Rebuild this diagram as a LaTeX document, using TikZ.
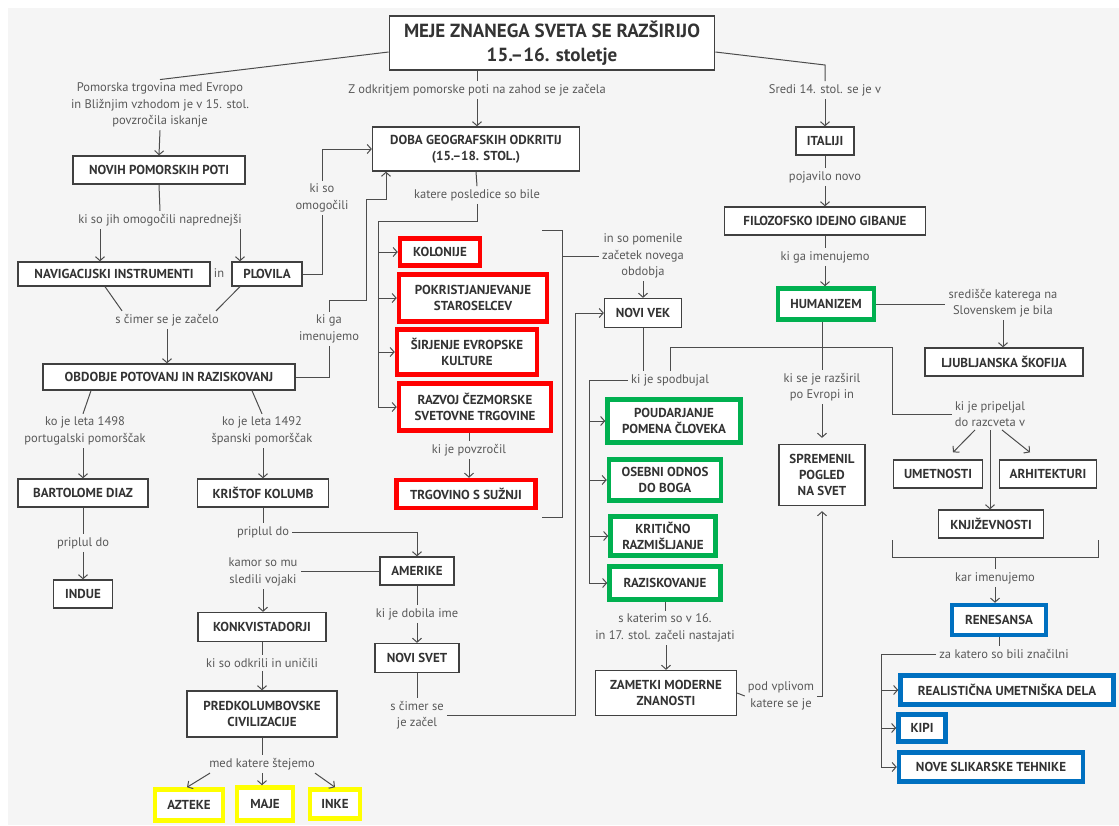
\documentclass[tikz,border=0pt]{standalone}
\usepackage{fontspec}
\setmainfont{PT Sans}
\usetikzlibrary{arrows.meta}
\definecolor{RedBox}{HTML}{FF0000}
\definecolor{GreenBox}{HTML}{00B050}
\definecolor{BlueBox}{HTML}{0070C0}
\definecolor{YellowBox}{HTML}{FFFF00}
\begin{document}
\begin{tikzpicture}[x=1pt,y=-1pt]
\tikzset{BoxStyle/.style={draw=black!75,line width=1.3pt,fill=white,text=black!80,font=\bfseries\fontsize{13}{16}\selectfont,align=center,inner sep=3pt,minimum height=28pt},
TwoStyle/.style={BoxStyle,minimum height=46pt},
RedStyle/.style={draw=RedBox,line width=4.5pt},
GreenStyle/.style={draw=GreenBox,line width=4.5pt},
BlueStyle/.style={draw=BlueBox,line width=4.5pt},
YellowStyle/.style={draw=YellowBox,line width=4.5pt},
LabelStyle/.style={text=black!65,font=\fontsize{12.5}{16.5}\selectfont,align=center,inner sep=3pt},
EdgeStyle/.style={draw=black!70,line width=1pt},
ArrowStyle/.style={EdgeStyle,-{Straight Barb[length=4pt,width=9pt]}}}
\fill[white] (0,0) rectangle (1119,825);
\fill[black!4] (8,8) rectangle (1119,825);
\useasboundingbox (0,0) rectangle (1119,825);
\node[BoxStyle,font=\bfseries\fontsize{19}{24}\selectfont,line width=1.8pt,minimum width=325pt,minimum height=54pt] (meje) at (552,43) {MEJE ZNANEGA SVETA SE RAZŠIRIJO\\15.--16. stoletje};
\node[LabelStyle] (lpomorska) at (160,105) {Pomorska trgovina med Evropo\\in Bližnjim vzhodom je v 15. stol.\\povzročila iskanje};
\node[LabelStyle] (lzod) at (477,90) {Z odkritjem pomorske poti na zahod se je začela};
\node[LabelStyle] (lsredi) at (825,90) {Sredi 14. stol. se je v};
\node[BoxStyle,minimum width=172pt] (novih) at (159,170) {NOVIH POMORSKIH POTI};
\node[LabelStyle] (lkisojih) at (160,220) {ki so jih omogočili naprednejši};
\node[BoxStyle,minimum width=192pt,minimum height=24pt] (nav) at (114,274) {NAVIGACIJSKI INSTRUMENTI};
\node[LabelStyle] (lin) at (219,273) {in};
\node[BoxStyle,minimum width=70pt,minimum height=24pt] (plovila) at (267,274) {PLOVILA};
\node[LabelStyle] (lscimer) at (167,320) {s čimer se je začelo};
\node[BoxStyle,minimum width=252pt,minimum height=26pt] (obdobje) at (169,377) {OBDOBJE POTOVANJ IN RAZISKOVANJ};
\node[LabelStyle] (lko1498) at (85,431) {ko je leta 1498\\portugalski pomorščak};
\node[LabelStyle] (lko1492) at (262,431) {ko je leta 1492\\španski pomorščak};
\node[BoxStyle,minimum width=130pt] (bartolome) at (83,493) {BARTOLOME DIAZ};
\node[BoxStyle,minimum width=131pt] (kolumb) at (263,493) {KRIŠTOF KOLUMB};
\node[LabelStyle] (lpriplul) at (83,543) {priplul do};
\node[BoxStyle,minimum width=59pt] (indue) at (83,594) {INDUE};
\node[LabelStyle] (lpripluldo) at (263,532) {priplul do};
\node[BoxStyle,minimum width=74pt] (amerike) at (417,571) {AMERIKE};
\node[LabelStyle] (lkamor) at (263,572) {kamor so mu\\sledili vojaki};
\node[BoxStyle,minimum width=128pt,minimum height=29pt] (konkv) at (262,627) {KONKVISTADORJI};
\node[LabelStyle] (lodkrili) at (262,663) {ki so odkrili in uničili};
\node[TwoStyle,minimum width=150pt] (predkol) at (262,714) {PREDKOLUMBOVSKE\\CIVILIZACIJE};
\node[LabelStyle] (lmed) at (262,764) {med katere štejemo};
\node[BoxStyle,YellowStyle,minimum width=68pt,minimum height=31pt] (azteke) at (189,805) {AZTEKE};
\node[BoxStyle,YellowStyle,minimum width=56pt,minimum height=33pt] (maje) at (265,804) {MAJE};
\node[BoxStyle,YellowStyle,minimum width=50pt,minimum height=29pt] (inke) at (335,804) {INKE};
\node[LabelStyle] (lime) at (417,614) {ki je dobila ime};
\node[BoxStyle,minimum width=84pt,minimum height=29pt] (novisvet) at (417,658) {NOVI SVET};
\node[LabelStyle] (lzacel) at (417,715) {s čimer se\\je začel};
\node[TwoStyle,minimum width=207pt,minimum height=44pt] (doba) at (476,149) {DOBA GEOGRAFSKIH ODKRITIJ\\(15.--18. STOL.)};
\node[LabelStyle] (lkisoomog) at (322,198) {ki so\\omogočili};
\node[LabelStyle] (lkigaim) at (329,329) {ki ga\\imenujemo};
\node[LabelStyle] (lkatere) at (477,195) {katere posledice so bile};
\node[BoxStyle,RedStyle,minimum width=80pt,minimum height=27pt] (kolonije) at (440,252) {KOLONIJE};
\node[TwoStyle,RedStyle,minimum width=148pt,minimum height=47pt] (pokrist) at (473,298) {POKRISTJANJEVANJE\\STAROSELCEV};
\node[TwoStyle,RedStyle,minimum width=140pt,minimum height=45pt] (sirjenje) at (467,352) {ŠIRJENJE EVROPSKE\\KULTURE};
\node[TwoStyle,RedStyle,minimum width=152pt,minimum height=47pt] (razvoj) at (475,407) {RAZVOJ ČEZMORSKE\\SVETOVNE TRGOVINE};
\node[LabelStyle] (lpovzrocil) at (469,450) {ki je povzročil};
\node[BoxStyle,RedStyle,minimum width=139pt] (trgovino) at (466,494) {TRGOVINO S SUŽNJI};
\node[LabelStyle] (lpomenile) at (643,256) {in so pomenile\\začetek novega\\obdobja};
\node[BoxStyle,minimum width=77pt,minimum height=29pt] (novivek) at (643,313) {NOVI VEK};
\node[LabelStyle] (lspodb) at (670,380) {ki je spodbujal};
\node[TwoStyle,GreenStyle,minimum width=133pt,minimum height=43pt] (poudarjanje) at (674,421) {POUDARJANJE\\POMENA ČLOVEKA};
\node[TwoStyle,GreenStyle,minimum width=112pt,minimum height=41pt] (osebni) at (665,480) {OSEBNI ODNOS\\DO BOGA};
\node[TwoStyle,GreenStyle,minimum width=105pt,minimum height=39pt] (kriticno) at (663,536) {KRITIČNO\\RAZMIŠLJANJE};
\node[BoxStyle,GreenStyle,minimum width=111pt,minimum height=33pt] (raziskovanje) at (665,583) {RAZISKOVANJE};
\node[LabelStyle] (lkaterim) at (665,628) {s katerim so v 16.\\in 17. stol. začeli nastajati};
\node[TwoStyle,minimum width=141pt,minimum height=45pt] (zametki) at (666,693) {ZAMETKI MODERNE\\ZNANOSTI};
\node[LabelStyle] (lvplivom) at (781,696) {pod vplivom\\katere se je};
\node[BoxStyle,minimum width=58pt] (italiji) at (825,141) {ITALIJI};
\node[LabelStyle] (lpojavilo) at (825,177) {pojavilo novo};
\node[BoxStyle,minimum width=201pt] (filoz) at (825,221) {FILOZOFSKO IDEJNO GIBANJE};
\node[LabelStyle] (limenujemo) at (825,257) {ki ga imenujemo};
\node[BoxStyle,GreenStyle,minimum width=96pt,minimum height=31pt] (humanizem) at (826,304) {HUMANIZEM};
\node[LabelStyle] (lsredisce) at (1003,303) {središče katerega na\\Slovenskem je bila};
\node[BoxStyle,minimum width=158pt] (ljubljana) at (1004,362) {LJUBLJANSKA ŠKOFIJA};
\node[LabelStyle] (lrazsiril) at (822,387) {ki se je razširil\\po Evropi in};
\node[TwoStyle,minimum width=86pt,minimum height=61pt] (spremenil) at (822,475) {SPREMENIL\\POGLED\\NA SVET};
\node[LabelStyle] (lpripeljal) at (990,414) {ki je pripeljal\\do razcveta v};
\node[BoxStyle,minimum width=89pt] (umetnosti) at (938,474) {UMETNOSTI};
\node[BoxStyle,minimum width=97pt] (arhitekturi) at (1048,474) {ARHITEKTURI};
\node[BoxStyle,minimum width=105pt] (knjizevnost) at (991,524) {KNJIŽEVNOSTI};
\node[LabelStyle] (lkarimen) at (995,578) {kar imenujemo};
\node[BoxStyle,BlueStyle,minimum width=94pt,minimum height=30pt] (renesansa) at (999,620) {RENESANSA};
\node[LabelStyle] (lznacilni) at (1004,654) {za katero so bili značilni};
\node[BoxStyle,BlueStyle,minimum width=213pt,minimum height=29pt] (realisticna) at (1007,690) {REALISTIČNA UMETNIŠKA DELA};
\node[BoxStyle,BlueStyle,minimum width=47pt,minimum height=27pt] (kipi) at (922,728) {KIPI};
\node[BoxStyle,BlueStyle,minimum width=184pt,minimum height=29pt] (novesl) at (991,767) {NOVE SLIKARSKE TEHNIKE};
\coordinate (bt) at (542,230);
\coordinate (bb) at (542,517);
\coordinate (rb) at (378,221);
\coordinate (kink) at (366,300);
\coordinate (gb) at (589,380);
\coordinate (hb) at (892,347);
\coordinate (kl) at (892,540);
\coordinate (kr) at (1098,540);
\coordinate (rbk) at (881,654);
\draw[EdgeStyle] ([yshift=-9pt]meje.west) -- (lpomorska.north);
\draw[EdgeStyle] ([yshift=-9pt]meje.east) -- (lsredi.north |- 0,65) -- (lsredi.north);
\draw[EdgeStyle] (meje.south -| lzod.north) -- (lzod.north);
\draw[ArrowStyle] (lzod.south) -- (lzod.south |- doba.north);
\draw[ArrowStyle] (lpomorska.south) -- (novih.north);
\draw[EdgeStyle] (novih.south) -- (lkisojih.north);
\draw[ArrowStyle] ([xshift=-60pt]lkisojih.south) -- ([xshift=-60pt]lkisojih.south |- nav.north);
\draw[ArrowStyle] ([xshift=80pt]lkisojih.south) -- ([xshift=80pt]lkisojih.south |- plovila.north);
\draw[EdgeStyle] ([xshift=-9pt]nav.south) -- ([xshift=10pt]lscimer.north west);
\draw[EdgeStyle] ([xshift=-27pt]plovila.south) -- ([xshift=-6pt]lscimer.north east);
\draw[ArrowStyle] (lscimer.south) -- (lscimer.south |- obdobje.north);
\draw[EdgeStyle] ([xshift=-78pt]obdobje.south) -- ([xshift=-2pt]lko1498.north);
\draw[EdgeStyle] ([xshift=83pt]obdobje.south) -- (lko1492.north);
\draw[ArrowStyle] (bartolome.north |- lko1498.south) -- (bartolome.north);
\draw[ArrowStyle] (kolumb.north |- lko1492.south) -- (kolumb.north);
\draw[EdgeStyle] (bartolome.south) -- (lpriplul.north);
\draw[ArrowStyle] (lpriplul.south) -- (indue.north);
\draw[EdgeStyle] (kolumb.south) -- (lpripluldo.north);
\draw[ArrowStyle] (lpripluldo.east) -| (amerike.north);
\draw[EdgeStyle] (amerike.west) -- (amerike.west -| lkamor.east);
\draw[ArrowStyle] (lkamor.south) -- (lkamor.south |- konkv.north);
\draw[EdgeStyle] (konkv.south) -- (lodkrili.north);
\draw[ArrowStyle] (lodkrili.south) -- (lodkrili.south |- predkol.north);
\draw[EdgeStyle] (predkol.south) -- (lmed.north);
\draw[ArrowStyle] ([xshift=-52pt]lmed.south) -- ([xshift=-2pt]azteke.north);
\draw[ArrowStyle] (lmed.south) -- (lmed.south |- maje.north);
\draw[ArrowStyle] ([xshift=53pt]lmed.south) -- (inke.north);
\draw[EdgeStyle] (amerike.south) -- (lime.north);
\draw[ArrowStyle] (lime.south) -- (novisvet.north);
\draw[EdgeStyle] (novisvet.south) -- (lzacel.north);
\draw[ArrowStyle] (lzacel.east) -| ([xshift=-28pt]novivek.west) -- (novivek.west);
\draw[ArrowStyle] (plovila.east) -| (lkisoomog.south) (lkisoomog.north) |- (doba.west);
\draw[EdgeStyle] (obdobje.east) -| (lkigaim.south);
\draw[ArrowStyle] (lkigaim.north) |- (kink) -- (kink |- 0,199) -| ([xshift=-90pt]doba.south);
\draw[EdgeStyle] (doba.south) -- (lkatere.north);
\draw[EdgeStyle] (lkatere.south) |- (rb) -- (rb |- razvoj.west);
\foreach \n in {kolonije,pokrist,sirjenje,razvoj}
  \draw[ArrowStyle] (rb |- \n.west) -- (\n.west);
\draw[EdgeStyle] (lpovzrocil.north |- razvoj.south) -- (lpovzrocil.north);
\draw[ArrowStyle] (lpovzrocil.south) -- (lpovzrocil.south |- trgovino.north);
\draw[EdgeStyle] (bt) -- ++(20,0) |- (bb);
\draw[EdgeStyle] (lpomenile.west) -- (lpomenile.west -| 562,0);
\draw[ArrowStyle] (lpomenile.south) -- (novivek.north);
\draw[EdgeStyle] (novivek.south) -- (novivek.south |- lspodb.north);
\draw[EdgeStyle] (lspodb.north) |- (hb) |- (lpripeljal.west);
\draw[EdgeStyle] (lspodb.west) -- (gb) -- (gb |- raziskovanje.west);
\foreach \n in {poudarjanje,osebni,kriticno,raziskovanje}
  \draw[ArrowStyle] (gb |- \n.west) -- (\n.west);
\draw[EdgeStyle] (raziskovanje.south) -- (raziskovanje.south |- lkaterim.north);
\draw[ArrowStyle] (zametki.north |- lkaterim.south) -- (zametki.north);
\draw[EdgeStyle] (zametki.east) -- (lvplivom.west);
\draw[ArrowStyle] (lvplivom.east) -| ([yshift=-5pt]spremenil.south);
\draw[ArrowStyle] (lsredi.south) -- (italiji.north);
\draw[EdgeStyle] (italiji.south) -- (lpojavilo.north);
\draw[ArrowStyle] (lpojavilo.south) -- (filoz.north);
\draw[EdgeStyle] (filoz.south) -- (limenujemo.north);
\draw[ArrowStyle] (limenujemo.south) -- (limenujemo.south |- humanizem.north);
\draw[EdgeStyle] (humanizem.east) -- (humanizem.east -| lsredisce.west);
\draw[ArrowStyle] (lsredisce.south) -- (lsredisce.south |- ljubljana.north);
\draw[EdgeStyle] (lrazsiril.north |- humanizem.south) -- (lrazsiril.north);
\draw[ArrowStyle] (lrazsiril.south) -- ([yshift=6pt]spremenil.north);
\draw[ArrowStyle] ([xshift=-15pt]lpripeljal.south) -- ([xshift=15pt,yshift=7pt]umetnosti.north);
\draw[ArrowStyle] (lpripeljal.south) -- (lpripeljal.south |- knjizevnost.north);
\draw[ArrowStyle] ([xshift=12pt]lpripeljal.south) -- ([xshift=-18pt,yshift=7pt]arhitekturi.north);
\draw[EdgeStyle] (kl) |- (kr |- 0,557) -- (kr);
\draw[EdgeStyle] (lkarimen.north |- 0,557) -- (lkarimen.north);
\draw[ArrowStyle] (lkarimen.south) -- (lkarimen.south |- renesansa.north);
\draw[EdgeStyle] (renesansa.south) -- (renesansa.south |- lznacilni.north);
\draw[EdgeStyle] (lznacilni.west) -- (rbk) -- (rbk |- novesl.west);
\foreach \n in {realisticna,kipi,novesl}
  \draw[ArrowStyle] (rbk |- \n.west) -- (\n.west);
\end{tikzpicture}
\end{document}
